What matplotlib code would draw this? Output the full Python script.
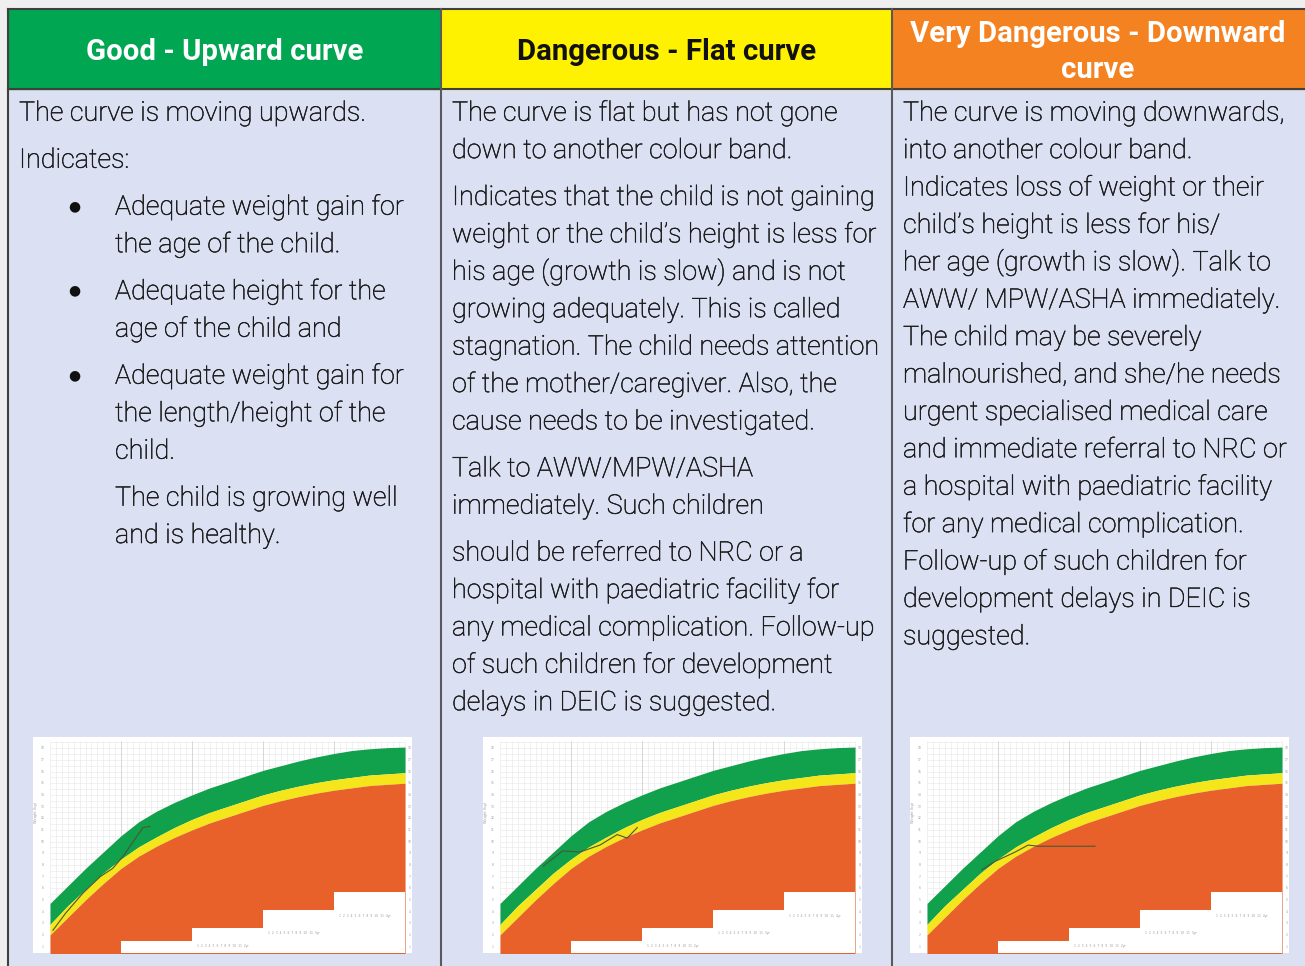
import matplotlib
matplotlib.use("Agg")
import matplotlib.pyplot as plt
from matplotlib.patches import Rectangle
import matplotlib.patheffects as pe
import numpy as np

# ---------------- data ----------------
headers = ["Good - Upward curve", "Dangerous - Flat curve", "Very Dangerous - Downward\ncurve"]
header_colors = ["#00a651", "#fff200", "#f58220"]
header_text_colors = ["white", "#111111", "white"]

col1_lines = ["The curve is moving upwards.", "Indicates:"]
col1_bullets = [["Adequate weight gain for", "the age of the child."],
                ["Adequate height for the", "age of the child and"],
                ["Adequate weight gain for", "the length/height of the", "child."]]
col1_tail = ["The child is growing well", "and is healthy."]

col2_paragraphs = [
    ["The curve is flat but has not gone", "down to another colour band."],
    ["Indicates that the child is not gaining", "weight or the child\u2019s height is less for",
     "his age (growth is slow) and is not", "growing adequately. This is called",
     "stagnation. The child needs attention", "of the mother/caregiver. Also, the",
     "cause needs to be investigated."],
    ["Talk to AWW/MPW/ASHA", "immediately. Such children"],
    ["should be referred to NRC or a", "hospital with paediatric facility for",
     "any medical complication. Follow-up", "of such children for development",
     "delays in DEIC is suggested."],
]
col3_lines = ["The curve is moving downwards,", "into another colour band.",
              "Indicates loss of weight or their", "child\u2019s height is less for his/",
              "her age (growth is slow). Talk to", "AWW/ MPW/ASHA immediately.",
              "The child may be severely", "malnourished, and she/he needs",
              "urgent specialised medical care", "and immediate referral to NRC or",
              "a hospital with paediatric facility", "for any medical complication.",
              "Follow-up of such children for", "development delays in DEIC is",
              "suggested."]

# growth chart bands (age in months vs weight units)
months = [0, 1.5, 3, 6, 9, 12, 15, 18, 21, 24, 27, 30, 33, 36, 39, 42, 45, 48, 51, 54, 57, 60]
green_top = [4.7, 5.45, 6.2, 7.7, 9.1, 10.5, 11.7, 12.6, 13.35, 14.0, 14.6, 15.1, 15.6,
             16.1, 16.5, 16.9, 17.25, 17.55, 17.8, 17.95, 18.05, 18.1]
green_yellow = [2.9, 3.7, 4.5, 5.9, 7.3, 8.5, 9.55, 10.4, 11.2, 11.9, 12.5, 13.0, 13.5,
                14.0, 14.4, 14.75, 15.05, 15.3, 15.5, 15.7, 15.8, 15.9]
yellow_orange = [2.0, 2.75, 3.5, 5.0, 6.4, 7.7, 8.75, 9.6, 10.35, 11.0, 11.6, 12.1, 12.6,
                 13.1, 13.5, 13.85, 14.15, 14.4, 14.6, 14.8, 14.9, 15.0]
step_starts = [12, 24, 36, 48]
step_heights = [1.5, 2.6, 4.1, 5.7]

good_age = [0.5, 2.7, 5.6, 8.5, 10.6, 12.3, 15.7, 16.9]
good_wt = [2.4, 3.9, 5.6, 7.0, 7.7, 8.7, 11.2, 11.3]
flat_age = [7.3, 10.6, 13.5, 16.9, 19.8, 21.5, 23.2]
flat_wt = [7.9, 9.2, 9.1, 9.7, 10.6, 10.3, 11.2]
down_age = [9.3, 11.5, 14.9, 17.1, 18.8, 28.4]
down_wt = [7.6, 8.3, 9.1, 9.7, 9.6, 9.6]
child_ages = [good_age, flat_age, down_age]
child_wts = [good_wt, flat_wt, down_wt]

# ---------------- layout ----------------
W, H = 1305, 966
fig = plt.figure(figsize=(W / 100, H / 100), dpi=100)
base = fig.add_axes([0, 0, 1, 1])
base.set_xlim(0, W)
base.set_ylim(H, 0)
base.axis("off")

BODY = "#dce0f3"
LINE = "#404040"
TXT = "#1a1a1a"
base.add_patch(Rectangle((0, 0), W, H, color="#efefef", zorder=0))
base.add_patch(Rectangle((8, 89), W - 8, H - 89, color=BODY, zorder=1))
col_x = [8, 441, 892, W]
for i in range(3):
    base.add_patch(Rectangle((col_x[i], 9), col_x[i + 1] - col_x[i], 80,
                             color=header_colors[i], zorder=1))
# borders
base.plot([8, W], [9, 9], color=LINE, lw=1.5, zorder=3)
base.plot([8, W], [89, 89], color=LINE, lw=1.5, zorder=3)
for x in col_x[:3]:
    base.plot([x, x], [9, H], color=LINE if x == 8 else "#5a5a5a", lw=1.5, zorder=3)

# headers
hfont = dict(family="Roboto", fontweight="bold", fontsize=21.2, zorder=4, ha="center")
base.text((8 + 441) / 2, 60, headers[0], color=header_text_colors[0], va="baseline", **hfont)
base.text((441 + 892) / 2, 60, headers[1], color=header_text_colors[1], va="baseline", **hfont)
h3 = headers[2].split("\n")
base.text((892 + W) / 2 - 0.5, 41.7, h3[0], color=header_text_colors[2], va="baseline", **hfont)
base.text((892 + W) / 2 - 0.5, 78.3, h3[1], color=header_text_colors[2], va="baseline", **hfont)

bfont = dict(family="Roboto", fontweight="light", fontsize=19.4, color=TXT,
             va="baseline", ha="left", zorder=4,
             path_effects=[pe.withStroke(linewidth=0.35, foreground=TXT)])
OFF = 9.7  # baseline below visual centre


def put(x, yc, s):
    base.text(x, yc + OFF, s, **bfont)


# column 1
put(19, 111, col1_lines[0])
put(19, 158, col1_lines[1])
y = 205
for b in col1_bullets:
    base.text(74, y + 1, "\u25CF", family="DejaVu Sans", fontsize=10, color="#111111",
              ha="center", va="center", zorder=4)
    for ln in b:
        put(115, y, ln)
        y += 37.5
    y += 9.5
y = 496
for ln in col1_tail:
    put(115, y, ln)
    y += 37.3

# column 2
y = 111
for p in col2_paragraphs:
    for ln in p:
        put(452, y, ln)
        y += 37.4
    y += 9.5
# column 3
y = 111
for ln in col3_lines:
    put(903, y, ln)
    y += 37.4

# ---------------- growth charts ----------------
GREEN, YELLOW, ORANGE = "#11a04b", "#f4e61a", "#e8602a"
boxes = [33, 483, 910]
for k, bx in enumerate(boxes):
    bw, by, bh = 379, 737, 216
    ax = fig.add_axes([bx / W, 1 - (by + bh) / H, bw / W, bh / H])
    ax.set_facecolor("white")
    ax.set_xlim(-17 / 5.917, (bw - 17) / 5.917)
    ax.set_ylim(0.45, 18.96)
    for s in ax.spines.values():
        s.set_visible(False)
    ax.set_xticks([])
    ax.set_yticks([])
    # fine grid
    ax.vlines(np.arange(0, 61, 1), 0.45, 18.6, color="#e9e9e9", lw=0.45, zorder=1)
    ax.hlines(np.arange(0.5, 18.7, 0.5), 0, 60, color="#e9e9e9", lw=0.45, zorder=1)
    ax.vlines([12, 24, 36, 48], 0.45, 18.6, color="#d2d2d2", lw=0.6, zorder=1)
    # bands
    ax.fill_between(months, green_yellow, green_top, color=GREEN, lw=0, zorder=2)
    ax.fill_between(months, yellow_orange, green_yellow, color=YELLOW, lw=0, zorder=2)
    ax.fill_between(months, 0, yellow_orange, color=ORANGE, lw=0, zorder=2)
    ax.bar(step_starts, step_heights, width=12, align="edge", bottom=0,
           color="white", lw=0, zorder=3)
    # tiny tick labels
    for v in range(1, 19):
        ax.text(-1.3, v, str(v), fontsize=2.2, color="#9a9a9a", ha="center", va="center", zorder=4)
        ax.text(60.8, v, str(v), fontsize=2.2, color="#9a9a9a", ha="center", va="center", zorder=4)
    ax.text(-2.4, 12.5, "Weight (kg)", fontsize=2.6, color="#9a9a9a", rotation=90,
            ha="center", va="center", zorder=4)
    for j in range(1, 4):
        xs = step_starts[j]
        lab = "  ".join(str(i) for i in range(1, 12)) + "  %dyr" % (j + 1)
        ax.text(xs + 0.8, step_heights[j - 1] - 0.45, lab, fontsize=2.2, color="#9a9a9a",
                ha="left", va="center", zorder=4)
    # child line
    ax.plot(child_ages[k], child_wts[k], color="#4b5636", lw=0.8, zorder=5)

fig.savefig("out.png", dpi=100)
